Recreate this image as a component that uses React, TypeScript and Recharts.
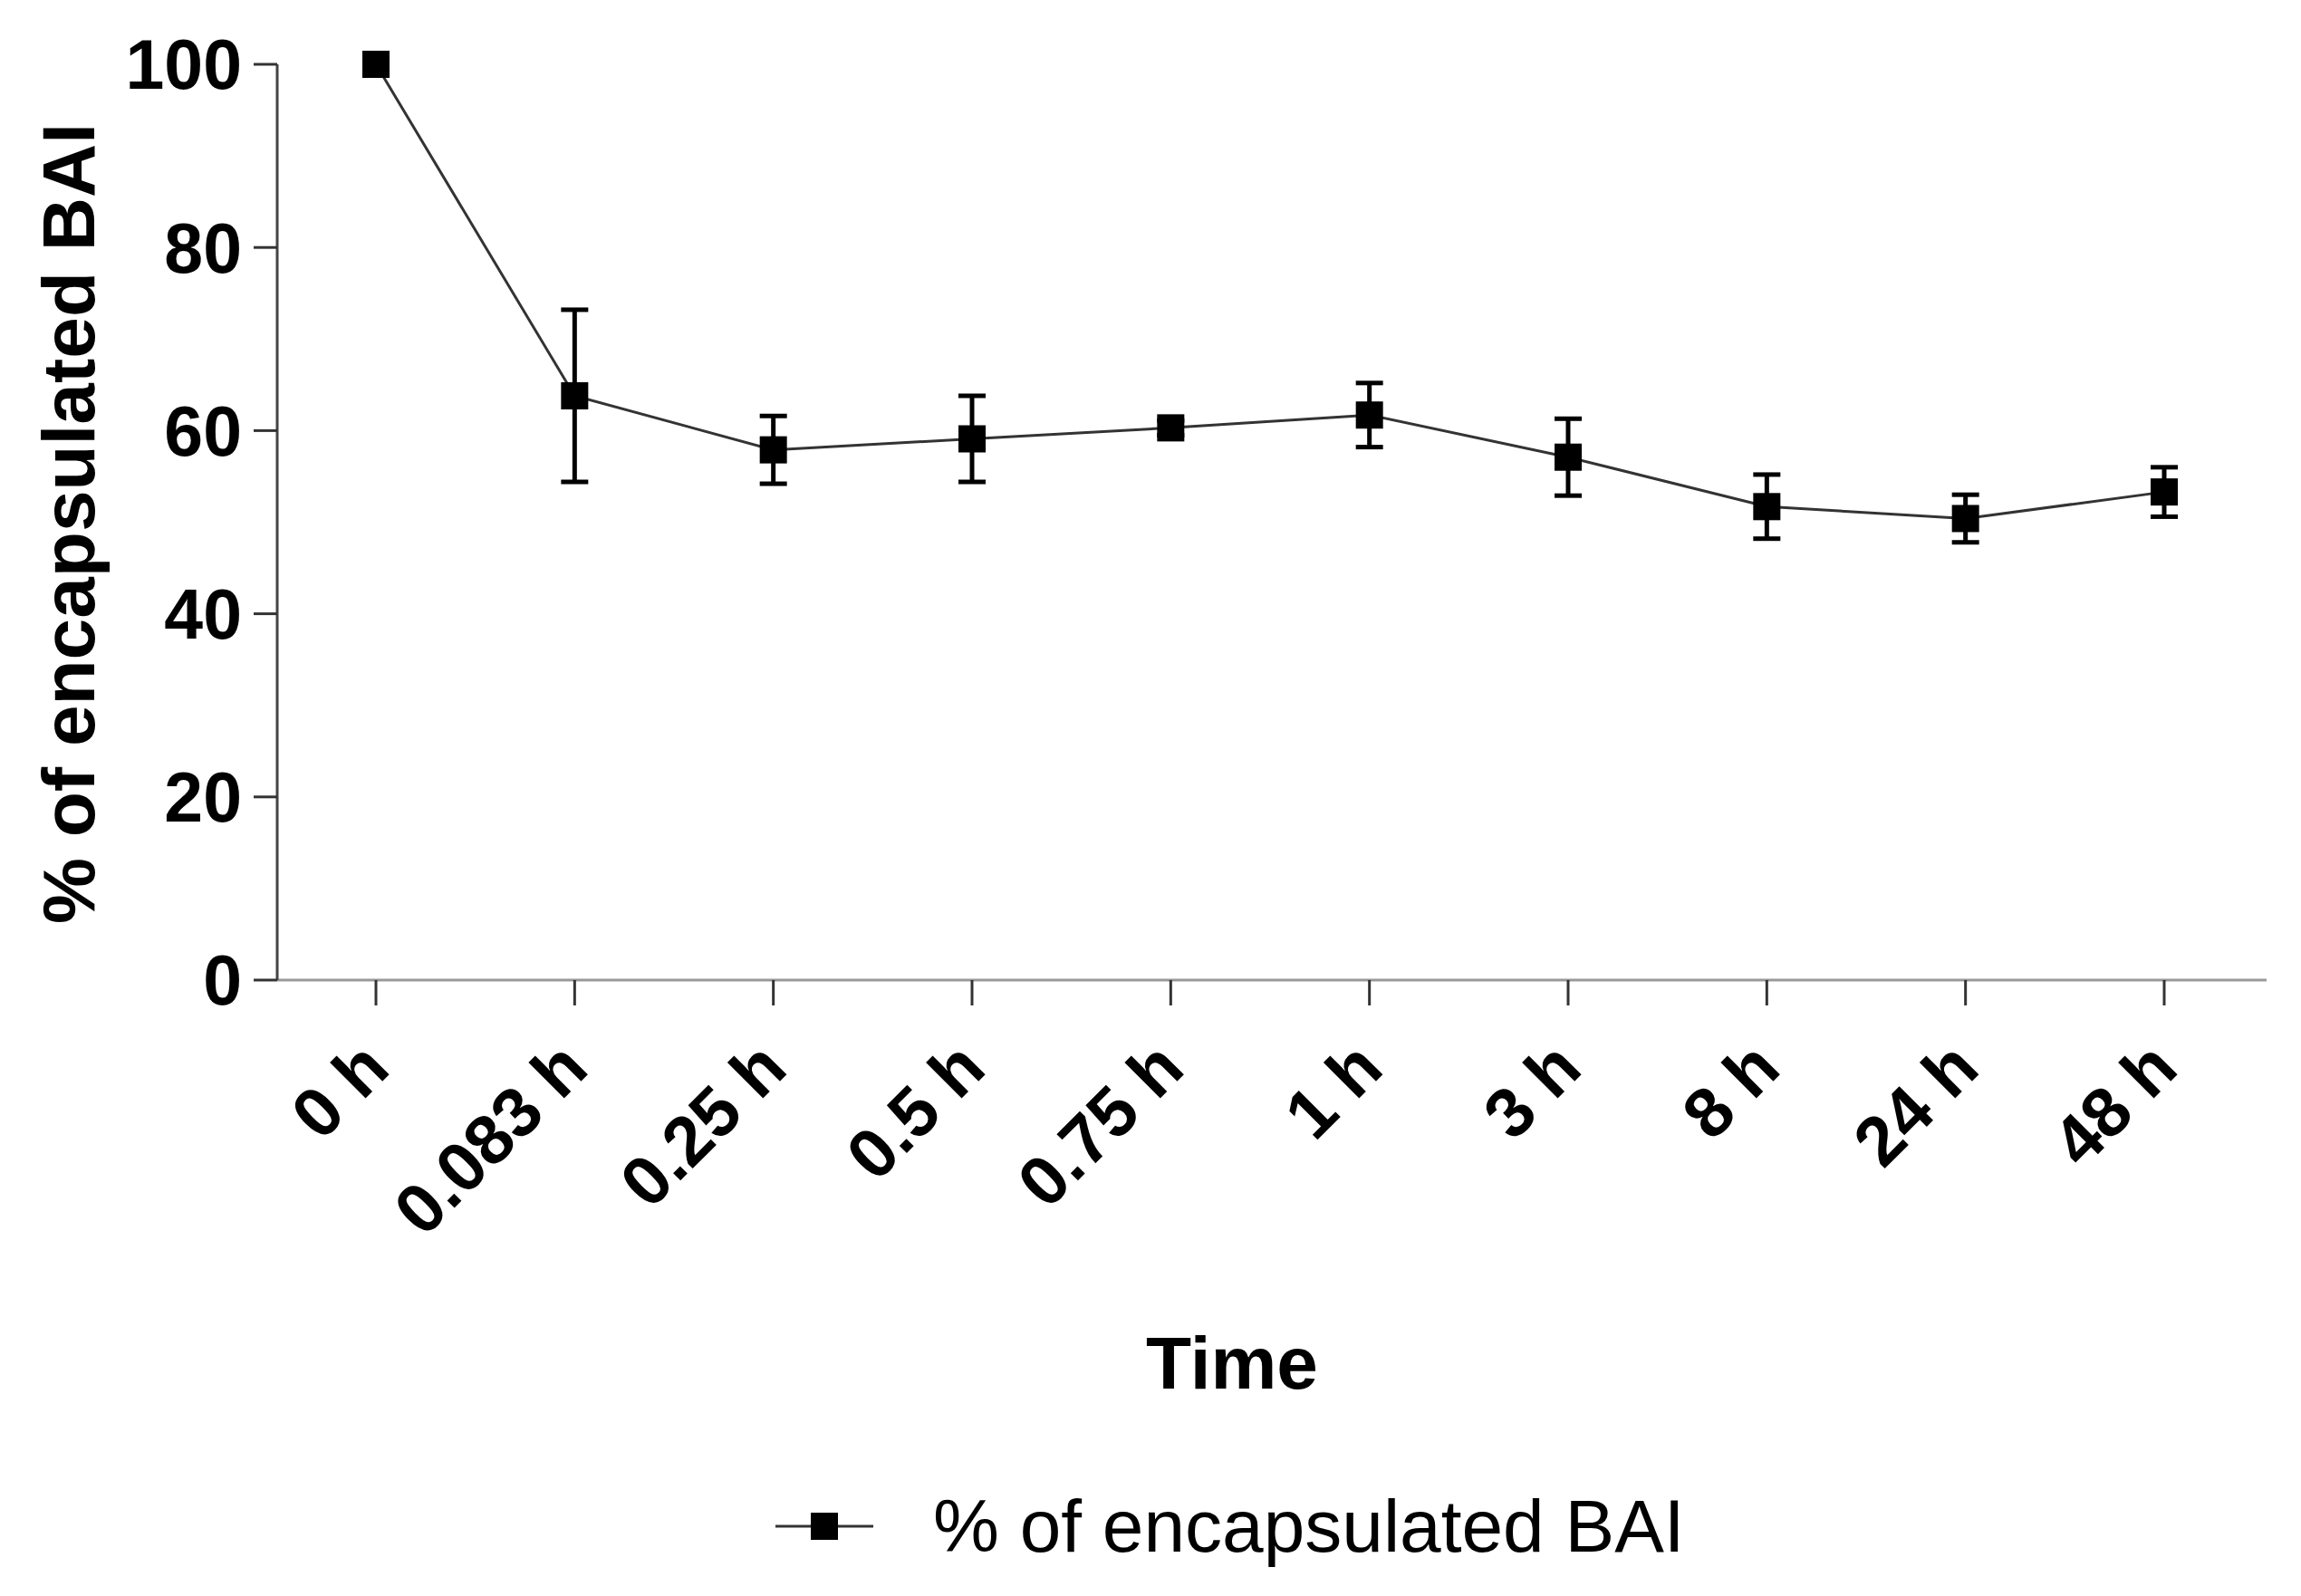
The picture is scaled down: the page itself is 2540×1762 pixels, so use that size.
import React from "react";
import { ErrorBar, Legend, Line, LineChart, XAxis, YAxis } from "recharts";

const timePoints = ["0 h", "0.083 h", "0.25 h", "0.5 h", "0.75 h", "1 h", "3 h", "8 h", "24 h", "48 h"];
const encapsulated = [100, 63.8, 57.9, 59.1, 60.3, 61.7, 57.1, 51.7, 50.4, 53.3];
const encapsulatedErr = [0, 9.4, 3.7, 4.7, 0.8, 3.5, 4.2, 3.5, 2.6, 2.7];
const yTicks = [0, 20, 40, 60, 80, 100];

const seriesName = "% of encapsulated BAI";
const yTitle = "% of encapsulated BAI";
const xTitle = "Time";

const data = timePoints.map((t, i) => ({ t, value: encapsulated[i], err: encapsulatedErr[i] }));

const FONT = '"Liberation Sans", Arial, sans-serif';

function SquareDot(props: any) {
  const { cx, cy, index } = props;
  if (cx == null || cy == null) return null;
  return <rect key={`dot-${index}`} x={cx - 15} y={cy - 15} width={30} height={30} fill="#000" />;
}

function XTick({ x, y, payload }: any) {
  return (
    <g transform={`translate(${x + 18},${y + 73})`}>
      <text
        transform="rotate(-45)"
        textAnchor="end"
        fontFamily={FONT}
        fontWeight="bold"
        fontSize={77}
        fill="#000"
      >
        {payload.value}
      </text>
    </g>
  );
}

function YTitle() {
  return (
    <text
      x={104}
      y={578}
      transform="rotate(-90 104 578)"
      textAnchor="middle"
      fontFamily={FONT}
      fontWeight="bold"
      fontSize={82}
      fill="#000"
    >
      {yTitle}
    </text>
  );
}

function XTitle() {
  return (
    <text x={1360} y={1533} textAnchor="middle" fontFamily={FONT} fontWeight="bold" fontSize={82} fill="#000">
      {xTitle}
    </text>
  );
}

function LegendContent({ payload }: any) {
  const label = payload && payload[0] ? payload[0].value : seriesName;
  return (
    <svg width={2540} height={110} style={{ display: "block" }}>
      <line x1={856} x2={964} y1={50} y2={50} stroke="#333" strokeWidth={3} />
      <rect x={895} y={35} width={30} height={30} fill="#000" />
      <text x={1030} y={78} fontFamily={FONT} fontSize={82} fill="#000">
        {label}
      </text>
    </svg>
  );
}

export default function App() {
  return (
    <div style={{ position: "absolute", left: 0, top: 0, width: 2540, height: 1762, background: "#fff" }}>
      <LineChart width={2540} height={1762} data={data} margin={{ top: 71, right: 38, bottom: 380, left: 106 }}>
        <XAxis
          dataKey="t"
          height={300}
          padding={{ left: 109, right: 113 }}
          interval={0}
          tickSize={28}
          tickMargin={0}
          axisLine={{ stroke: "#999", strokeWidth: 3 }}
          tickLine={{ stroke: "#333", strokeWidth: 3 }}
          tick={<XTick />}
          label={<XTitle />}
        />
        <YAxis
          width={200}
          domain={[0, 100]}
          ticks={yTicks}
          interval={0}
          tickSize={26}
          tickMargin={13}
          axisLine={{ stroke: "#444", strokeWidth: 3 }}
          tickLine={{ stroke: "#333", strokeWidth: 3 }}
          tick={{ fontFamily: FONT, fontWeight: "bold", fontSize: 77, fill: "#000" }}
          label={<YTitle />}
        />
        <Legend
          verticalAlign="middle"
          align="center"
          content={<LegendContent />}
          wrapperStyle={{ left: 0, top: 1635, width: 2540, height: 110 }}
        />
        <Line
          type="linear"
          dataKey="value"
          name={seriesName}
          stroke="#333"
          strokeWidth={3}
          dot={(p: any) => <SquareDot key={`d-${p.index}`} {...p} />}
          activeDot={false}
          isAnimationActive={false}
        >
          <ErrorBar dataKey="err" direction="y" width={15} strokeWidth={5} stroke="#000" />
        </Line>
      </LineChart>
    </div>
  );
}
